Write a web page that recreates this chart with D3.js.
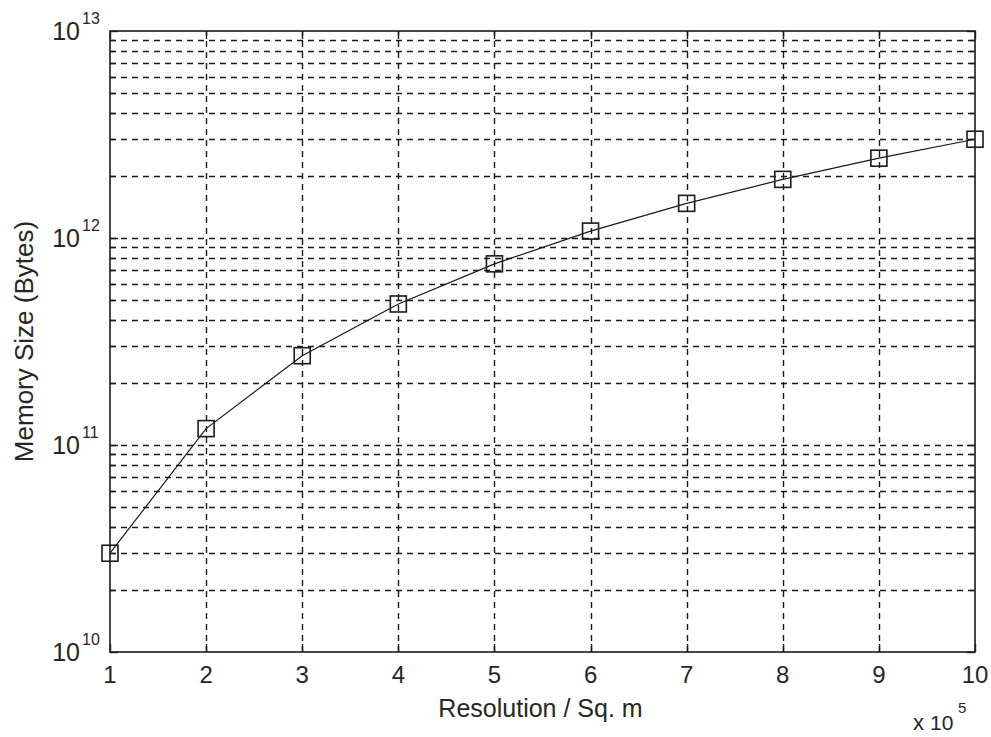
<!DOCTYPE html>
<html>
<head>
<meta charset="utf-8">
<script src="https://cdn.jsdelivr.net/npm/d3@7"></script>
<style>
  html, body { margin: 0; padding: 0; background: #fff; }
  svg { display: block; }
  text { font-family: "Liberation Sans", Arial, sans-serif; fill: #262626; }
</style>
</head>
<body>
<svg id="chart" width="991" height="737"></svg>
<script>
// Resolution in units of 10^5 square metres
const resolution = [1, 2, 3, 4, 5, 6, 7, 8, 9, 10];
// Memory size in bytes at each resolution
const memoryBytes = [3.0e10, 1.2e11, 2.7e11, 4.8e11, 7.5e11, 1.08e12, 1.47e12, 1.92e12, 2.43e12, 3.0e12];
// Axis ticks
const xTicks = [1, 2, 3, 4, 5, 6, 7, 8, 9, 10];
const yDecades = [10, 11, 12, 13];
const xLabel = "Resolution / Sq. m";
const yLabel = "Memory Size (Bytes)";
const xMultiplierExp = 5;

const svg = d3.select("#chart");
const W = 991, H = 737;
const margin = { left: 110, right: W - 975, top: 31, bottom: H - 652 };
const x0 = margin.left, x1 = W - margin.right, y0 = H - margin.bottom, y1 = margin.top;

const x = d3.scaleLinear().domain([1, 10]).range([x0, x1]);
const y = d3.scaleLog().domain([1e10, 1e13]).range([y0, y1]);

// all log gridline positions: 1..9 × 10^k
const yGrid = [];
for (let k = 10; k < 13; k++) for (let m = 1; m <= 9; m++) yGrid.push(m * Math.pow(10, k));
yGrid.push(1e13);

const ink = "#1a1a1a";
const dash = "6,5";

// horizontal gridlines
svg.append("g").selectAll("line").data(yGrid.filter(v => v > 1e10 && v < 1e13)).join("line")
  .attr("x1", x0).attr("x2", x1)
  .attr("y1", d => Math.round(y(d)) + 0.5).attr("y2", d => Math.round(y(d)) + 0.5)
  .attr("stroke", ink).attr("stroke-width", 1.4).attr("stroke-dasharray", dash);

// vertical gridlines
svg.append("g").selectAll("line").data(xTicks.filter(v => v > 1 && v < 10)).join("line")
  .attr("x1", d => Math.round(x(d)) + 0.5).attr("x2", d => Math.round(x(d)) + 0.5)
  .attr("y1", y0).attr("y2", y1)
  .attr("stroke", ink).attr("stroke-width", 1.4).attr("stroke-dasharray", dash);

// tick marks on all four sides
const ticks = svg.append("g").attr("stroke", ink).attr("stroke-width", 1.4);
xTicks.forEach(v => {
  const px = Math.round(x(v)) + 0.5;
  ticks.append("line").attr("x1", px).attr("x2", px).attr("y1", y0).attr("y2", y0 - 8);
  ticks.append("line").attr("x1", px).attr("x2", px).attr("y1", y1).attr("y2", y1 + 8);
});
yGrid.forEach(v => {
  const py = Math.round(y(v)) + 0.5;
  const major = Math.abs(Math.log10(v) - Math.round(Math.log10(v))) < 1e-9;
  const len = major ? 8 : 5;
  ticks.append("line").attr("x1", x0).attr("x2", x0 + len).attr("y1", py).attr("y2", py);
  ticks.append("line").attr("x1", x1).attr("x2", x1 - len).attr("y1", py).attr("y2", py);
});

// plot frame
svg.append("rect")
  .attr("x", x0).attr("y", y1).attr("width", x1 - x0).attr("height", y0 - y1)
  .attr("fill", "none").attr("stroke", ink).attr("stroke-width", 1.6);

// x tick labels
svg.append("g").selectAll("text").data(xTicks).join("text")
  .attr("x", d => x(d)).attr("y", 683)
  .attr("text-anchor", "middle").attr("font-size", 24)
  .text(d => d);

// y tick labels: base 10 with the exponent raised
svg.append("g").selectAll("text").data(yDecades).join("text")
  .attr("x", 80).attr("y", d => y(Math.pow(10, d)) + 9)
  .attr("text-anchor", "end").attr("font-size", 25)
  .text("10");
svg.append("g").selectAll("text").data(yDecades).join("text")
  .attr("x", 82).attr("y", d => y(Math.pow(10, d)) - 7)
  .attr("font-size", 16)
  .text(d => d);

// x multiplier: "x 10" with the exponent raised
svg.append("text").attr("x", 913).attr("y", 730).attr("font-size", 22).text("x");
svg.append("text").attr("x", 930).attr("y", 730).attr("font-size", 21).text("10");
svg.append("text").attr("x", 958).attr("y", 713).attr("font-size", 15).text(xMultiplierExp);

// axis titles
svg.append("text").attr("x", (x0 + x1) / 2 - 2).attr("y", 717)
  .attr("text-anchor", "middle").attr("font-size", 25).text(xLabel);
svg.append("text")
  .attr("transform", `translate(33, ${(y0 + y1) / 2}) rotate(-90)`)
  .attr("text-anchor", "middle").attr("font-size", 26).text(yLabel);

// data line
const pts = resolution.map((r, i) => [x(r), y(memoryBytes[i])]);
svg.append("path").attr("d", d3.line()(pts))
  .attr("fill", "none").attr("stroke", ink).attr("stroke-width", 1.2);

// square markers
const ms = 16;
svg.append("g").selectAll("rect").data(pts).join("rect")
  .attr("x", d => d[0] - ms / 2).attr("y", d => d[1] - ms / 2)
  .attr("width", ms).attr("height", ms)
  .attr("fill", "none").attr("stroke", ink).attr("stroke-width", 1.6);
</script>
</body>
</html>
